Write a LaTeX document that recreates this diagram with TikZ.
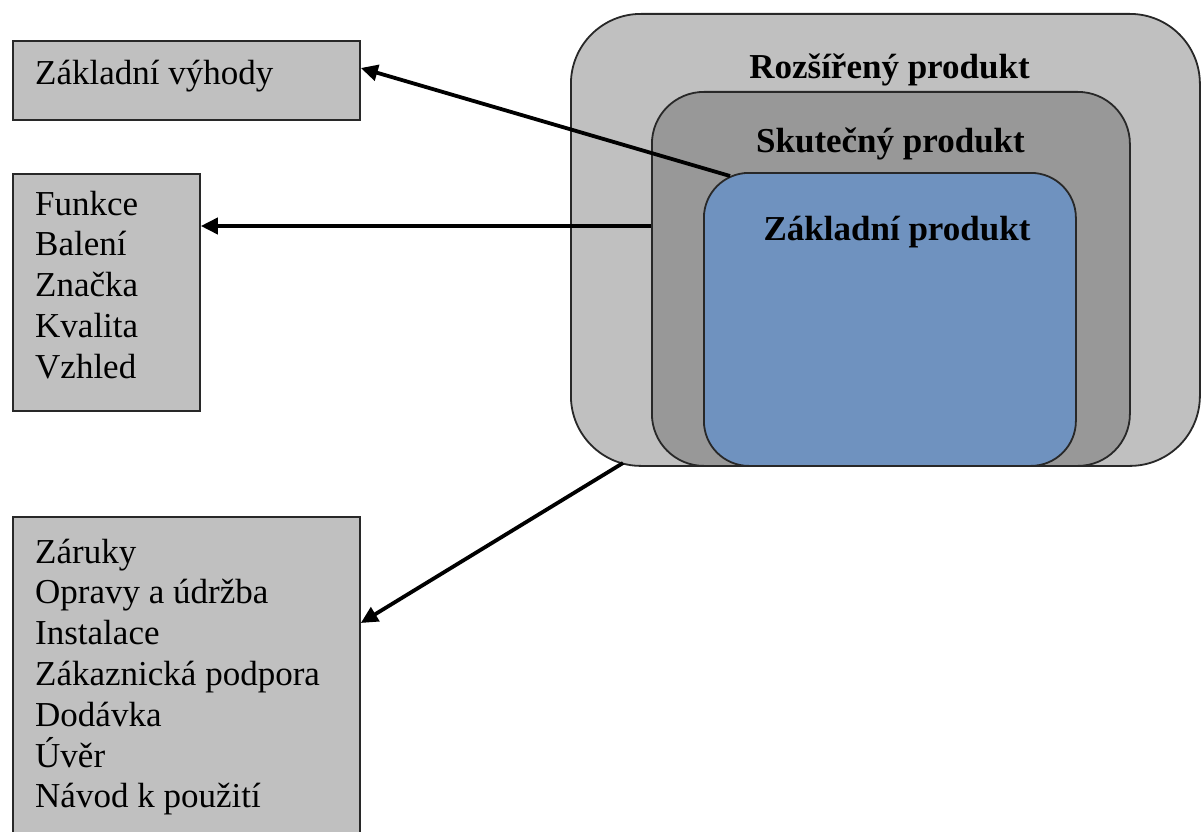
\documentclass[tikz,border=0pt]{standalone}
\usepackage{fontspec}
\setmainfont{Liberation Serif}
\usetikzlibrary{arrows.meta}
\definecolor{lightg}{RGB}{192,192,192}
\definecolor{midg}{RGB}{152,152,152}
\definecolor{coreblue}{RGB}{111,146,191}
\definecolor{edgeg}{RGB}{40,40,40}
\begin{document}
\begin{tikzpicture}[x=1pt,y=-1pt,
  listbox/.style={draw=edgeg, fill=lightg, line width=1.8pt, anchor=north west, inner sep=0pt},
  layer/.style={draw=edgeg, line width=1.8pt, anchor=north west, inner sep=0pt},
  bodytext/.style={font=\fontsize{35}{40.8}\selectfont, inner sep=0pt, align=left, anchor=north west},
  title/.style={font=\bfseries\fontsize{35}{40.8}\selectfont, inner sep=0pt, anchor=base},
  link/.style={line width=3.8pt, -{Triangle[length=17pt,width=16pt]}}]
\useasboundingbox (0,0) rectangle (1202,832);
\clip (0,0) rectangle (1202,832);
\fill[white] (0,0) rectangle (1202,832);

% left boxes
\node[listbox, minimum width=347pt, minimum height=79pt] (b1) at (12,40) {};
\node[listbox, minimum width=187pt, minimum height=237pt] (b2) at (12,173) {};
\node[listbox, minimum width=347pt, minimum height=340pt] (b3) at (12,516) {};

\node[bodytext, anchor=base west] (t1) at (35,85) {Základní výhody};
\node[bodytext] (t2) at (35,186.4) {\strut Funkce\\Balení\\Značka\\Kvalita\\Vzhled};
\node[bodytext] (t3) at (35,534.4) {\strut Záruky\\Opravy a údržba\\Instalace\\Zákaznická podpora\\Dodávka\\Úvěr\\Návod k použití};

% product layers
\node[layer, fill=lightg, rounded corners=70pt, minimum width=629pt, minimum height=452pt] (outer) at (570,13) {};
\node[layer, fill=midg, rounded corners=52pt, minimum width=478pt, minimum height=374pt] (actual) at (651,91) {};
\node[layer, fill=coreblue, rounded corners=45pt, minimum width=372pt, minimum height=293pt] (core) at (703,172) {};

\node[title] (rt) at (889.5,79) {Rozšířený produkt};
\node[title] (st) at (890.5,153) {Skutečný produkt};
\node[title] (zt) at (897,240) {Základní produkt};

% connectors
\coordinate (s1) at (730,176);
\coordinate (h1) at (0,68);
\coordinate (h2) at (0,226);
\coordinate (s3) at (623,463);
\coordinate (h3) at (0,623);
\draw[link] (s1) -- (b1.east |- h1);
\draw[link] (actual.west |- h2) -- (b2.east |- h2);
\draw[link] (s3) -- (b3.east |- h3);
\end{tikzpicture}
\end{document}
